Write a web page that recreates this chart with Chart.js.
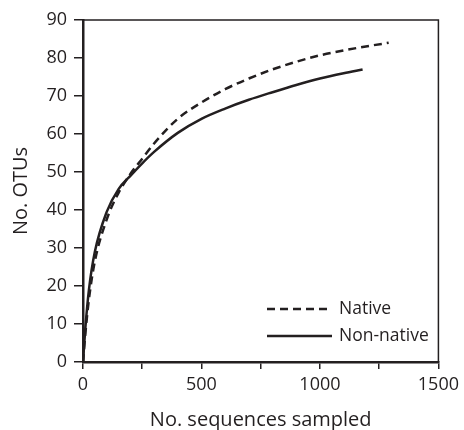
<!DOCTYPE html>
<html>
<head>
<meta charset="utf-8">
<script src="https://cdn.jsdelivr.net/npm/chart.js@4"></script>
<style>
  html, body { margin: 0; padding: 0; background: #fff; }
  #wrap { width: 464px; height: 430px; }
</style>
</head>
<body>
<div id="wrap"><canvas id="c" width="464" height="430"></canvas></div>
<script>
// Data
const nativeX    = [0, 10, 25, 50, 100, 150, 200, 250, 300, 400, 500, 600, 700, 800, 900, 1000, 1100, 1200, 1290];
const nativeY    = [0, 7.5, 16.5, 26.5, 37.5, 44.5, 49.5, 53.5, 57.5, 64, 68.3, 71.8, 74.6, 77.0, 79.0, 80.7, 82.0, 83.1, 84];
const nonNativeX = [0, 10, 25, 50, 100, 150, 200, 250, 300, 400, 500, 600, 700, 800, 900, 1000, 1100, 1180];
const nonNativeY = [0, 9, 19, 29, 39.5, 45.5, 49, 52.3, 55.3, 60.3, 64, 66.7, 69, 71, 72.9, 74.6, 76, 77];
const seriesLabels = ['Native', 'Non-native'];
const xTickLabels = [0, 500, 1000, 1500];
const yTickLabels = [0, 10, 20, 30, 40, 50, 60, 70, 80, 90];

const INK = '#231f20';
const FONT = "'Open Sans', 'Liberation Sans', sans-serif";

const toPts = (xs, ys) => xs.map((x, i) => ({ x: x, y: ys[i] }));

const framePlugin = {
  id: 'frame',
  afterDraw(chart) {
    const { ctx, chartArea: a } = chart;
    ctx.save();
    ctx.strokeStyle = INK;
    ctx.lineWidth = 1.5;
    ctx.beginPath();
    ctx.moveTo(a.left, a.top);
    ctx.lineTo(a.right, a.top);
    ctx.lineTo(a.right, a.bottom);
    ctx.stroke();
    ctx.restore();
  }
};

const legendPlugin = {
  id: 'insideLegend',
  afterDraw(chart) {
    const { ctx, chartArea: a } = chart;
    ctx.save();
    ctx.font = '17.5px ' + FONT;
    ctx.textBaseline = 'middle';
    ctx.textAlign = 'left';
    const x0 = a.left + 184, x1 = a.left + 249;
    const ys = [a.bottom - 53, a.bottom - 26];
    chart.data.datasets.forEach((ds, i) => {
      ctx.strokeStyle = ds.borderColor;
      ctx.lineWidth = ds.borderWidth;
      ctx.setLineDash(ds.borderDash || []);
      ctx.beginPath();
      ctx.moveTo(x0, ys[i]);
      ctx.lineTo(x1, ys[i]);
      ctx.stroke();
      ctx.setLineDash([]);
      ctx.fillStyle = INK;
      ctx.fillText(ds.label, x1 + 7, ys[i]);
    });
    ctx.restore();
  }
};

new Chart(document.getElementById('c'), {
  type: 'scatter',
  data: {
    datasets: [
      {
        label: seriesLabels[0],
        data: toPts(nativeX, nativeY),
        showLine: true,
        borderColor: INK,
        borderWidth: 2.5,
        borderDash: [8, 5],
        pointRadius: 0,
        cubicInterpolationMode: 'monotone',
        fill: false
      },
      {
        label: seriesLabels[1],
        data: toPts(nonNativeX, nonNativeY),
        showLine: true,
        borderColor: INK,
        borderWidth: 2.5,
        pointRadius: 0,
        cubicInterpolationMode: 'monotone',
        fill: false
      }
    ]
  },
  options: {
    responsive: false,
    animation: false,
    layout: { padding: { top: 20, right: 22, left: 0, bottom: 0 } },
    plugins: {
      legend: { display: false },
      tooltip: { enabled: false }
    },
    scales: {
      x: {
        type: 'linear',
        min: 0,
        max: 1500,
        afterFit(s) { s.height = 68; },
        ticks: {
          stepSize: 250,
          color: INK,
          font: { size: 18, family: FONT },
          padding: 5,
          maxRotation: 0,
          autoSkip: false,
          callback: (v) => (xTickLabels.includes(v) ? String(v) : '')
        },
        grid: { drawOnChartArea: false, drawTicks: true, tickLength: 7, color: INK, lineWidth: 1.5 },
        border: { display: true, color: INK, width: 2.5 },
        title: {
          display: true,
          text: 'No. sequences sampled',
          color: INK,
          font: { size: 20, family: FONT },
          padding: { top: 0, bottom: -2 }
        }
      },
      y: {
        type: 'linear',
        min: 0,
        max: 90,
        afterFit(s) { s.width = 83; },
        ticks: {
          stepSize: 10,
          color: INK,
          font: { size: 18, family: FONT },
          padding: 7,
          callback: (v) => (yTickLabels.includes(v) ? String(v) : '')
        },
        grid: { drawOnChartArea: false, drawTicks: true, tickLength: 9, color: INK, lineWidth: 1.5 },
        border: { display: true, color: INK, width: 2.5 },
        title: {
          display: true,
          text: 'No. OTUs',
          color: INK,
          font: { size: 20, family: FONT },
          padding: { top: 9, bottom: 0 }
        }
      }
    }
  },
  plugins: [framePlugin, legendPlugin]
});
</script>
</body>
</html>
